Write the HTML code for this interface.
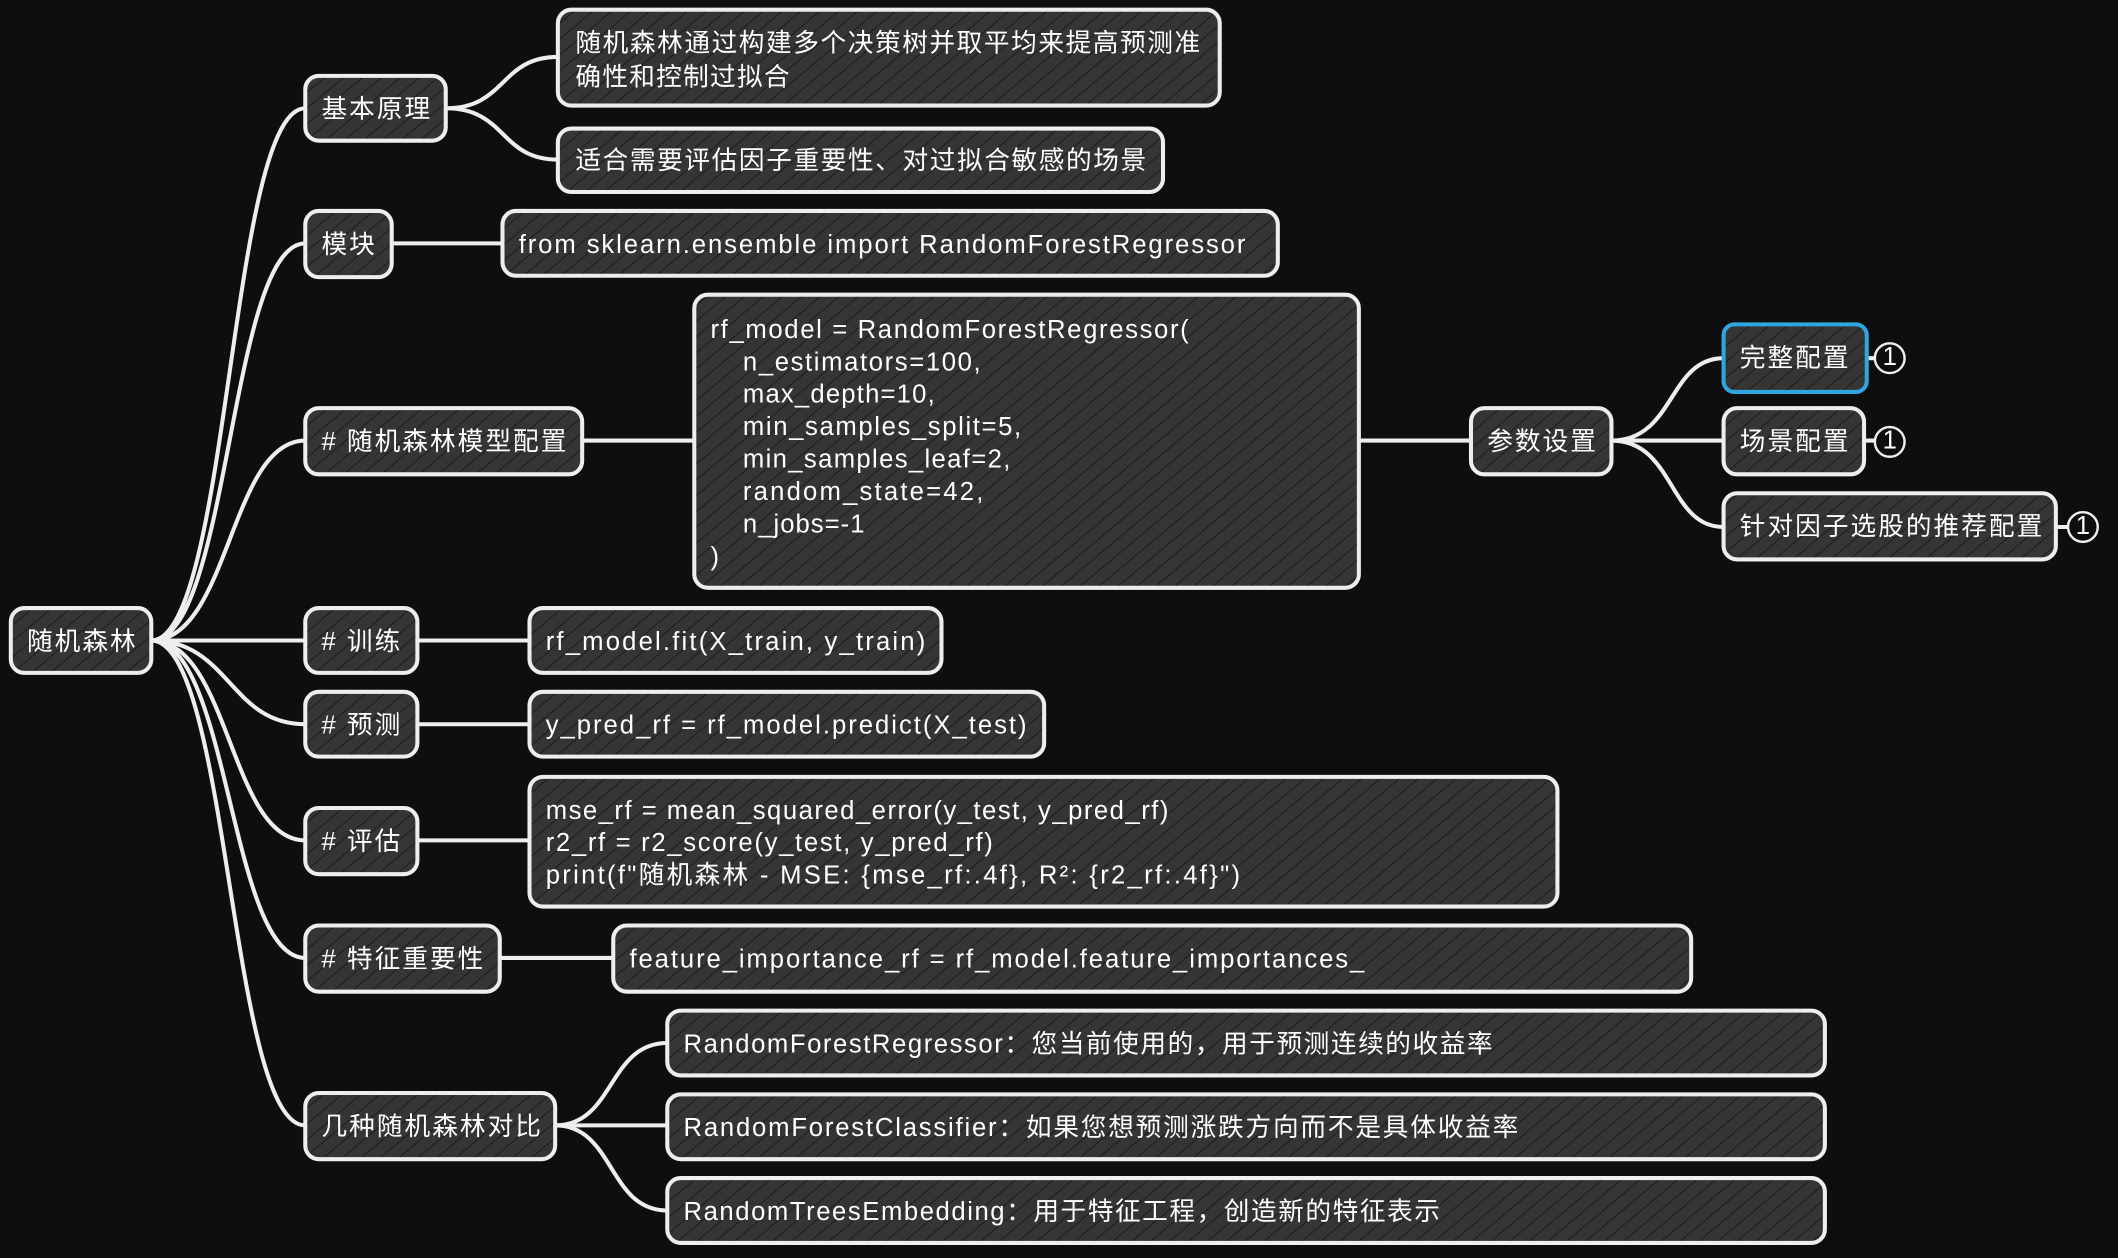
<!DOCTYPE html>
<html><head><meta charset="utf-8"><style>
html,body{margin:0;padding:0;background:#0e0e0e;}
svg{display:block}
text{font-family:"Liberation Sans","Noto Sans CJK SC",sans-serif;fill:#fff;font-size:19px;}
</style></head><body>
<svg width="2118" height="1258" viewBox="0 0 1568 931" xmlns="http://www.w3.org/2000/svg">
<defs>
<pattern id="h" width="9" height="9" patternUnits="userSpaceOnUse" patternTransform="rotate(50)">
<rect width="9" height="9" fill="#353535"/><line x1="0" y1="0" x2="0" y2="9" stroke="#1c1c1c" stroke-width="1.5"/>
</pattern>
</defs>
<rect width="1568" height="931" fill="#0e0e0e"/>
<g fill="none" stroke="#eee" stroke-width="3" stroke-linecap="round">
<path d="M112 474 C170 474 170 80 226 80"/>
<path d="M112 474 C170 474 170 180 226 180"/>
<path d="M112 474 C170 474 170 326 226 326"/>
<path d="M112 474 L226 474"/>
<path d="M112 474 C170 474 170 536 226 536"/>
<path d="M112 474 C170 474 170 622 226 622"/>
<path d="M112 474 C170 474 170 709 226 709"/>
<path d="M112 474 C170 474 170 833 226 833"/>
<path d="M330 80 C375 80 370 42 413 42"/>
<path d="M330 80 C375 80 370 118 413 118"/>
<path d="M290 180 L372 180"/>
<path d="M431 326 L514 326"/>
<path d="M1006 326 L1089 326"/>
<path d="M1193 326 C1240 326 1235 265 1276 265"/>
<path d="M1193 326 L1276 326"/>
<path d="M1193 326 C1240 326 1235 390 1276 390"/>
<path d="M309 474 L392 474"/>
<path d="M309 536 L392 536"/>
<path d="M309 622 L392 622"/>
<path d="M370 709 L454 709"/>
<path d="M411 833 C455 833 450 772 494 772"/>
<path d="M411 833 L494 833"/>
<path d="M411 833 C455 833 450 896 494 896"/>
<path d="M1382 265 L1388 265"/><path d="M1380 326 L1388 326"/><path d="M1522 390 L1531 390"/>
</g>
<g fill="url(#h)" stroke="#eee" stroke-width="3">
<rect x="8" y="450" width="104" height="48" rx="10"/>
<rect x="226" y="56" width="104" height="48" rx="10"/>
<rect x="413" y="7" width="490" height="71" rx="10"/>
<rect x="413" y="95" width="448" height="47" rx="10"/>
<rect x="226" y="156" width="64" height="49" rx="10"/>
<rect x="372" y="156" width="574" height="48" rx="10"/>
<rect x="226" y="302" width="205" height="49" rx="10"/>
<rect x="514" y="218" width="492" height="217" rx="10"/>
<rect x="1089" y="302" width="104" height="49" rx="10"/>
<rect x="1276" y="240" width="106" height="50" rx="8" stroke="#2fa6e0"/>
<rect x="1276" y="302" width="104" height="49" rx="10"/>
<rect x="1276" y="365" width="246" height="49" rx="10"/>
<rect x="226" y="450" width="83" height="48" rx="10"/>
<rect x="392" y="450" width="305" height="48" rx="10"/>
<rect x="226" y="512" width="83" height="48" rx="10"/>
<rect x="392" y="512" width="381" height="48" rx="10"/>
<rect x="226" y="598" width="83" height="49" rx="10"/>
<rect x="392" y="575" width="761" height="96" rx="10"/>
<rect x="226" y="685" width="144" height="49" rx="10"/>
<rect x="454" y="685" width="798" height="49" rx="10"/>
<rect x="226" y="809" width="185" height="49" rx="10"/>
<rect x="494" y="748" width="857" height="48" rx="10"/>
<rect x="494" y="810" width="857" height="48" rx="10"/>
<rect x="494" y="872" width="857" height="48" rx="10"/>
</g>
<g fill="#0e0e0e" stroke="#eee" stroke-width="1.8">
<circle cx="1399" cy="265" r="11"/><circle cx="1399" cy="327" r="11"/><circle cx="1542" cy="390" r="11"/>
</g>
<g text-anchor="middle">
<text x="1399" y="270" font-size="13">1</text><text x="1399" y="332" font-size="13">1</text><text x="1542" y="395" font-size="13">1</text>
</g>
<g letter-spacing="1.5">
<text x="20" y="481">随机森林</text>
<text x="238" y="87">基本原理</text>
<text x="426" y="38" textLength="464" lengthAdjust="spacing">随机森林通过构建多个决策树并取平均来提高预测准</text>
<text x="426" y="63" textLength="160" lengthAdjust="spacing">确性和控制过拟合</text>
<text x="426" y="125" textLength="424" lengthAdjust="spacing">适合需要评估因子重要性、对过拟合敏感的场景</text>
<text x="238" y="187">模块</text>
<text x="238" y="333"># 随机森林模型配置</text>
<text x="1101" y="333">参数设置</text>
<text x="1288" y="271">完整配置</text>
<text x="1288" y="333">场景配置</text>
<text x="1288" y="396">针对因子选股的推荐配置</text>
<text x="238" y="481"># 训练</text>
<text x="238" y="543"># 预测</text>
<text x="238" y="629"># 评估</text>
<text x="238" y="716"># 特征重要性</text>
<text x="238" y="840">几种随机森林对比</text>
</g>
<g font-size="20">
<text x="384" y="187" textLength="538" lengthAdjust="spacing">from sklearn.ensemble import RandomForestRegressor</text>
<text x="526" y="250" textLength="354" lengthAdjust="spacing">rf_model = RandomForestRegressor(</text>
<text x="550" y="274" textLength="176" lengthAdjust="spacing">n_estimators=100,</text>
<text x="550" y="298" textLength="142" lengthAdjust="spacing">max_depth=10,</text>
<text x="550" y="322" textLength="206" lengthAdjust="spacing">min_samples_split=5,</text>
<text x="550" y="346" textLength="198" lengthAdjust="spacing">min_samples_leaf=2,</text>
<text x="550" y="370" textLength="178" lengthAdjust="spacing">random_state=42,</text>
<text x="550" y="394" textLength="90" lengthAdjust="spacing">n_jobs=-1</text>
<text x="526" y="418">)</text>
<text x="404" y="481" textLength="281" lengthAdjust="spacing">rf_model.fit(X_train, y_train)</text>
<text x="404" y="543" textLength="356" lengthAdjust="spacing">y_pred_rf = rf_model.predict(X_test)</text>
<text x="404" y="606" textLength="461" lengthAdjust="spacing">mse_rf = mean_squared_error(y_test, y_pred_rf)</text>
<text x="404" y="630" textLength="331" lengthAdjust="spacing">r2_rf = r2_score(y_test, y_pred_rf)</text>
<text x="404" y="654" textLength="514" lengthAdjust="spacing">print(f"随机森林 - MSE: {mse_rf:.4f}, R²: {r2_rf:.4f}")</text>
<text x="466" y="716" textLength="544" lengthAdjust="spacing">feature_importance_rf = rf_model.feature_importances_</text>
<text x="506" y="779" textLength="599" lengthAdjust="spacing">RandomForestRegressor：您当前使用的，用于预测连续的收益率</text>
<text x="506" y="841" textLength="618" lengthAdjust="spacing">RandomForestClassifier：如果您想预测涨跌方向而不是具体收益率</text>
<text x="506" y="903" textLength="560" lengthAdjust="spacing">RandomTreesEmbedding：用于特征工程，创造新的特征表示</text>
</g>
</svg>
</body></html>
